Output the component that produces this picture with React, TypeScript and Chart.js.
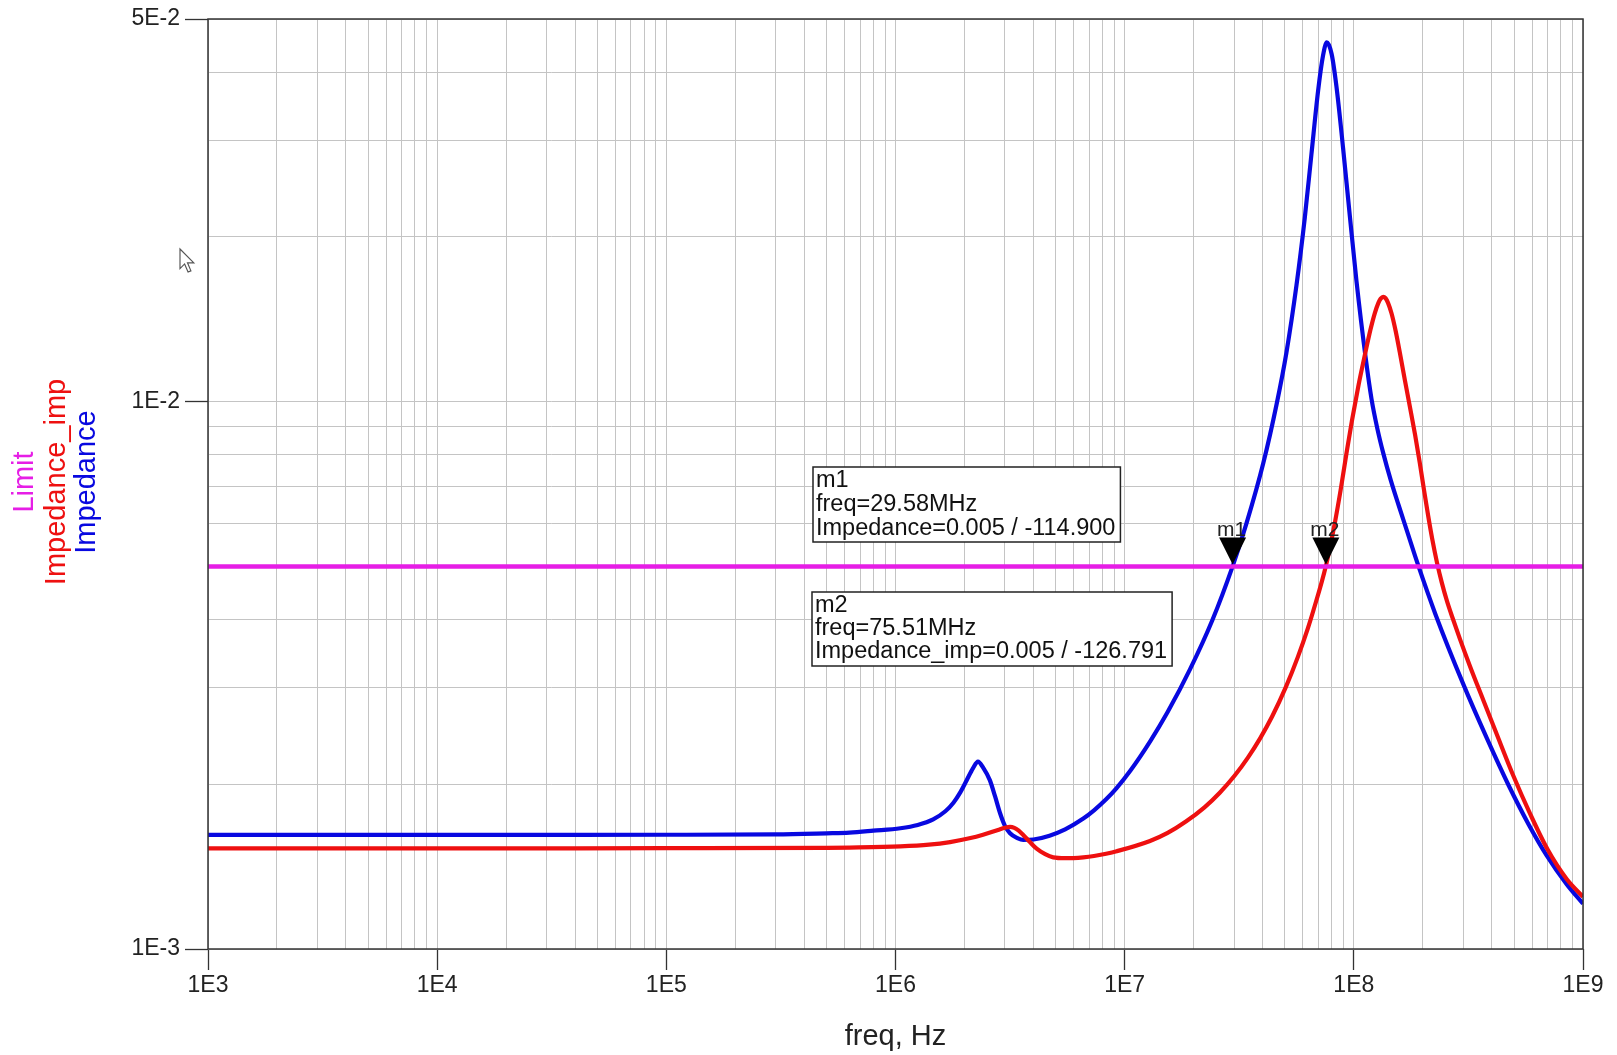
import React, { useEffect, useRef } from 'react';
import { Chart, registerables } from 'chart.js';

Chart.register(...registerables);

// ---------- Data ----------
const impedanceFreq = [
  1e3, 1e4, 1e5, 3e5, 5e5, 6.3e5, 8e5, 1.05e6, 1.25e6, 1.46e6, 1.65e6, 1.79e6, 1.92e6, 2.04e6,
  2.18e6, 2.29e6, 2.42e6, 2.58e6, 2.72e6, 2.86e6, 3.0e6, 3.16e6, 3.4e6, 3.61e6, 4.0e6, 4.7e6,
  5.5e6, 6.6e6, 7.35e6, 8.3e6, 9.22e6, 10.6e6, 12.9e6, 15.4e6, 19.3e6, 24.1e6, 29.58e6, 34e6,
  40.3e6, 46e6, 50.8e6, 56.2e6, 61.1e6, 65.3e6, 69.8e6, 73.4e6, 76.2e6, 80e6, 84e6, 89.8e6,
  96.1e6, 102.7e6, 112.5e6, 119.5e6, 127e6, 134.3e6, 145e6, 157e6, 170e6, 191e6, 227e6, 300e6,
  380e6, 470e6, 580e6, 695e6, 850e6, 1e9,
];
const impedanceValue = [
  1.616e-3, 1.616e-3, 1.617e-3, 1.619e-3, 1.627e-3, 1.632e-3, 1.645e-3, 1.662e-3, 1.685e-3,
  1.725e-3, 1.785e-3, 1.85e-3, 1.935e-3, 2.03e-3, 2.14e-3, 2.2e-3, 2.14e-3, 2.035e-3, 1.9e-3,
  1.77e-3, 1.68e-3, 1.627e-3, 1.595e-3, 1.582e-3, 1.585e-3, 1.611e-3, 1.654e-3, 1.731e-3,
  1.792e-3, 1.877e-3, 1.968e-3, 2.119e-3, 2.393e-3, 2.709e-3, 3.245e-3, 3.981e-3, 5.0e-3,
  5.99e-3, 7.73e-3, 9.88e-3, 12.29e-3, 16.31e-3, 21.67e-3, 28.29e-3, 36.9e-3, 42.9e-3, 45.3e-3,
  43.15e-3, 37.6e-3, 29.0e-3, 21.8e-3, 16.6e-3, 12.06e-3, 10.1e-3, 8.88e-3, 8.06e-3, 7.18e-3,
  6.46e-3, 5.83e-3, 5.02e-3, 4.09e-3, 3.05e-3, 2.43e-3, 2.004e-3, 1.687e-3, 1.481e-3, 1.312e-3,
  1.21e-3,
];

const impedanceImpFreq = [
  1e3, 1e4, 1e5, 5e5, 6.3e5, 1.05e6, 1.4e6, 1.73e6, 2.1e6, 2.41e6, 2.8e6, 3.0e6, 3.16e6, 3.3e6,
  3.45e6, 3.61e6, 3.85e6, 4.13e6, 4.5e6, 4.88e6, 5.5e6, 6.6e6, 7.35e6, 8.3e6, 9.22e6, 12.9e6,
  15.4e6, 18.5e6, 22.3e6, 26e6, 30.1e6, 34.5e6, 39e6, 44e6, 50.6e6, 57e6, 63e6, 66.6e6, 75.51e6,
  82.6e6, 87.5e6, 92.9e6, 98e6, 104.3e6, 109e6, 113.5e6, 118e6, 123.4e6, 128e6, 131e6, 134.3e6,
  137.5e6, 141e6, 146e6, 152e6, 158.7e6, 167e6, 175.5e6, 185e6, 194e6, 202e6, 211e6, 220e6,
  230.6e6, 242e6, 255e6, 270e6, 290e6, 320e6, 367e6, 420e6, 495e6, 590e6, 700e6, 850e6, 1e9,
];
const impedanceImpValue = [
  1.527e-3, 1.527e-3, 1.528e-3, 1.53e-3, 1.532e-3, 1.54e-3, 1.551e-3, 1.568e-3, 1.593e-3,
  1.617e-3, 1.65e-3, 1.665e-3, 1.672e-3, 1.665e-3, 1.645e-3, 1.615e-3, 1.57e-3, 1.525e-3,
  1.49e-3, 1.47e-3, 1.465e-3, 1.4707e-3, 1.4787e-3, 1.4931e-3, 1.5087e-3, 1.5756e-3, 1.6298e-3,
  1.7097e-3, 1.815e-3, 1.93e-3, 2.07e-3, 2.237e-3, 2.426e-3, 2.659e-3, 3.015e-3, 3.417e-3,
  3.853e-3, 4.153e-3, 5.01e-3, 6.0e-3, 6.88e-3, 8.05e-3, 9.2e-3, 10.6e-3, 11.6e-3, 12.55e-3,
  13.5e-3, 14.5e-3, 15.15e-3, 15.42e-3, 15.54e-3, 15.45e-3, 15.15e-3, 14.5e-3, 13.5e-3,
  12.3e-3, 10.95e-3, 9.8e-3, 8.7e-3, 7.73e-3, 6.93e-3, 6.19e-3, 5.6e-3, 5.08e-3, 4.67e-3,
  4.32e-3, 4.02e-3, 3.69e-3, 3.3e-3, 2.85e-3, 2.47e-3, 2.079e-3, 1.76e-3, 1.521e-3, 1.341e-3,
  1.246e-3,
];

const limitFreq = [1e3, 1e9];
const limitValue = [0.005, 0.005];

const xMajorTicks = [1e3, 1e4, 1e5, 1e6, 1e7, 1e8, 1e9];
const xTickLabels = ['1E3', '1E4', '1E5', '1E6', '1E7', '1E8', '1E9'];
const yMajorTicks = [1e-3, 1e-2, 5e-2];
const yTickLabels = ['1E-3', '1E-2', '5E-2'];

const seriesNames = ['Limit', 'Impedance_imp', 'Impedance'];
const seriesColors = ['#e61ee6', '#ee1010', '#0808e0'];

const markerNames = ['m1', 'm2'];
const markerFreqs = [29.58e6, 75.51e6];
const markerValues = [0.005, 0.005];
const m1Lines = ['m1', 'freq=29.58MHz', 'Impedance=0.005 / -114.900'];
const m2Lines = ['m2', 'freq=75.51MHz', 'Impedance_imp=0.005 / -126.791'];

const FONT = "'Liberation Sans', Arial, sans-serif";

function decadeGrid(min: number, max: number, majors: number[]): number[] {
  const vals: number[] = [];
  let e = Math.floor(Math.log10(min) + 1e-9);
  while (Math.pow(10, e) <= max * 1.0000001) {
    for (let m = 1; m <= 9; m++) {
      const v = m * Math.pow(10, e);
      if (v >= min * 0.9999999 && v <= max * 1.0000001) vals.push(v);
    }
    e++;
  }
  majors.forEach((m) => { if (!vals.some((v) => Math.abs(v - m) / m < 1e-6)) vals.push(m); });
  return vals.sort((a, b) => a - b);
}

function labelFor(value: number, majors: number[], labels: string[]): string {
  const i = majors.findIndex((t) => Math.abs(t - value) / t < 1e-6);
  return i >= 0 ? labels[i] : '';
}

const toPoints = (xs: number[], ys: number[]) => xs.map((x, i) => ({ x, y: ys[i] }));

const overlayPlugin = {
  id: 'adsOverlay',
  afterDatasetsDraw(chart: any) {
    const { ctx, chartArea, scales } = chart;
    const xs = scales.x;
    const ys = scales.y;
    ctx.save();
    // frame
    ctx.strokeStyle = '#333';
    ctx.lineWidth = 1.5;
    ctx.strokeRect(chartArea.left, chartArea.top, chartArea.right - chartArea.left, chartArea.bottom - chartArea.top);

    // markers
    markerFreqs.forEach((f, i) => {
      const px = xs.getPixelForValue(f);
      const py = ys.getPixelForValue(markerValues[i]);
      ctx.fillStyle = '#000';
      ctx.beginPath();
      ctx.moveTo(px, py - 2);
      ctx.lineTo(px - 13.5, py - 29);
      ctx.lineTo(px + 13.5, py - 29);
      ctx.closePath();
      ctx.fill();
      ctx.font = `21px ${FONT}`;
      ctx.fillStyle = '#222';
      ctx.textAlign = 'center';
      ctx.textBaseline = 'alphabetic';
      ctx.fillText(markerNames[i], px - 1, py - 30.5);
    });

    // marker readout boxes
    const boxes = [
      { left: 813, top: 467, lines: m1Lines, offs: [20, 44, 68], h: 75 },
      { left: 812, top: 592, lines: m2Lines, offs: [20, 43, 65.5], h: 74 },
    ];
    ctx.font = `23.5px ${FONT}`;
    boxes.forEach((b) => {
      const w = Math.max(...b.lines.map((l) => ctx.measureText(l).width)) + 8;
      ctx.fillStyle = '#fff';
      ctx.fillRect(b.left, b.top, w, b.h);
      ctx.strokeStyle = '#222';
      ctx.lineWidth = 1.5;
      ctx.strokeRect(b.left, b.top, w, b.h);
      ctx.fillStyle = '#111';
      ctx.textAlign = 'left';
      ctx.textBaseline = 'alphabetic';
      b.lines.forEach((l, i) => ctx.fillText(l, b.left + 3, b.top + b.offs[i]));
    });
    ctx.restore();
  },
  afterDraw(chart: any) {
    const { ctx } = chart;
    ctx.save();
    // multi-colour y-axis title
    const titleX = [25, 57, 87];
    ctx.font = `29px ${FONT}`;
    ctx.textAlign = 'center';
    ctx.textBaseline = 'middle';
    seriesNames.forEach((n, i) => {
      ctx.save();
      ctx.translate(titleX[i], 482);
      ctx.rotate(-Math.PI / 2);
      ctx.fillStyle = seriesColors[i];
      ctx.fillText(n, 0, 0);
      ctx.restore();
    });
    // mouse cursor
    ctx.translate(180, 249);
    ctx.scale(1.15, 1.15);
    ctx.beginPath();
    ctx.moveTo(0, 0);
    ctx.lineTo(0, 17);
    ctx.lineTo(4, 13);
    ctx.lineTo(7, 20);
    ctx.lineTo(9.5, 19);
    ctx.lineTo(6.5, 12);
    ctx.lineTo(12, 12);
    ctx.closePath();
    ctx.fillStyle = '#fff';
    ctx.fill();
    ctx.strokeStyle = '#555';
    ctx.lineWidth = 1;
    ctx.stroke();
    ctx.restore();
  },
};

export default function App() {
  const ref = useRef<HTMLCanvasElement | null>(null);

  useEffect(() => {
    if (!ref.current) return;
    const xGrid = decadeGrid(1e3, 1e9, xMajorTicks);
    const yGrid = decadeGrid(1e-3, 5e-2, yMajorTicks);
    const isMajorX = (v: number) => labelFor(v, xMajorTicks, xTickLabels) !== '';
    const isMajorY = (v: number) => labelFor(v, yMajorTicks, yTickLabels) !== '';

    const chart = new Chart(ref.current, {
      type: 'line',
      data: {
        datasets: [
          {
            label: seriesNames[0],
            data: toPoints(limitFreq, limitValue),
            borderColor: seriesColors[0],
            borderWidth: 4.5,
            pointRadius: 0,
          },
          {
            label: seriesNames[1],
            data: toPoints(impedanceImpFreq, impedanceImpValue),
            borderColor: seriesColors[1],
            borderWidth: 4.2,
            pointRadius: 0,
            cubicInterpolationMode: 'monotone',
          },
          {
            label: seriesNames[2],
            data: toPoints(impedanceFreq, impedanceValue),
            borderColor: seriesColors[2],
            borderWidth: 4.2,
            pointRadius: 0,
            cubicInterpolationMode: 'monotone',
          },
        ],
      },
      options: {
        animation: false,
        responsive: false,
        devicePixelRatio: 1,
        layout: { padding: { left: 0, top: 19, right: 34, bottom: 0 } },
        plugins: { legend: { display: false }, tooltip: { enabled: false } },
        scales: {
          x: {
            type: 'logarithmic',
            min: 1e3,
            max: 1e9,
            afterBuildTicks: (scale: any) => {
              scale.ticks = xGrid.map((v) => ({ value: v }));
            },
            afterFit: (scale: any) => {
              scale.height = 106;
            },
            border: { display: false },
            grid: {
              color: '#c4c4c4',
              lineWidth: 1,
              tickLength: 21,
              tickWidth: 1.3,
              tickColor: (c: any) => (c.tick && isMajorX(c.tick.value) ? '#333' : 'rgba(0,0,0,0)'),
            },
            ticks: {
              autoSkip: false,
              maxRotation: 0,
              minRotation: 0,
              padding: 2,
              color: '#222',
              font: { family: FONT, size: 23 },
              callback: (v: any) => labelFor(Number(v), xMajorTicks, xTickLabels),
            },
            title: {
              display: true,
              text: 'freq, Hz',
              color: '#222',
              font: { family: FONT, size: 29 },
              padding: { top: 0, bottom: 1 },
            },
          },
          y: {
            type: 'logarithmic',
            min: 1e-3,
            max: 5e-2,
            afterBuildTicks: (scale: any) => {
              scale.ticks = yGrid.map((v) => ({ value: v }));
            },
            afterFit: (scale: any) => {
              scale.width = 208;
            },
            border: { display: false },
            grid: {
              color: '#c4c4c4',
              lineWidth: 1,
              tickLength: 23,
              tickWidth: 1.3,
              tickColor: (c: any) => (c.tick && isMajorY(c.tick.value) ? '#333' : 'rgba(0,0,0,0)'),
            },
            ticks: {
              autoSkip: false,
              padding: 5,
              color: '#222',
              font: { family: FONT, size: 23 },
              callback: (v: any) => labelFor(Number(v), yMajorTicks, yTickLabels),
            },
          },
        },
      } as any,
      plugins: [overlayPlugin],
    });
    return () => chart.destroy();
  }, []);

  return (
    <div style={{ position: 'absolute', left: 0, top: 0, width: 1617, height: 1055, background: '#fff' }}>
      <canvas ref={ref} width={1617} height={1055} style={{ display: 'block' }} />
    </div>
  );
}
